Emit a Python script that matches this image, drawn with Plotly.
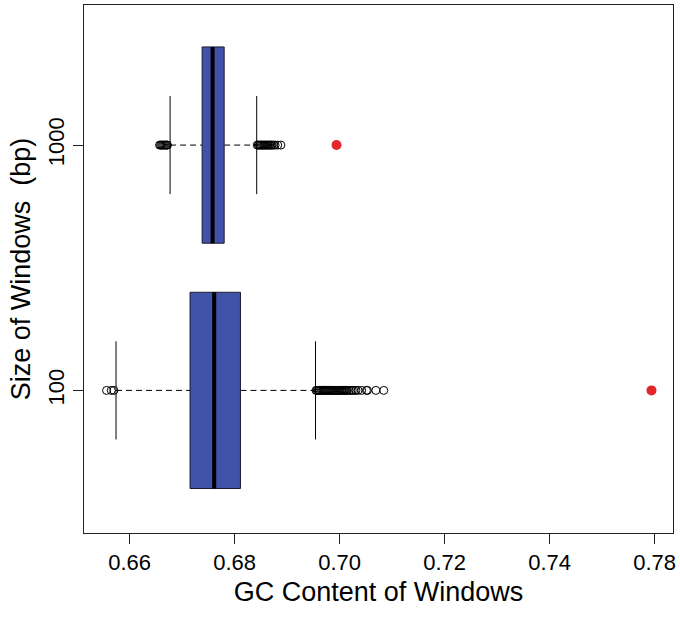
import plotly.graph_objects as go

# ---------------- data ----------------
categories = ["100", "1000"]
q1 = [0.6715, 0.6738]
medians = [0.6761, 0.6758]
q3 = [0.6811, 0.6780]
whisker_low = [0.6574, 0.6677]
whisker_high = [0.6954, 0.6842]

outliers_100 = [
    0.6556, 0.6565, 0.6570,
    0.6955, 0.6957, 0.6959, 0.6961, 0.6963, 0.6965, 0.6967, 0.6969, 0.6971,
    0.6973, 0.6975, 0.6977, 0.6979, 0.6981, 0.6983, 0.6985, 0.6987, 0.6989,
    0.6991, 0.6993, 0.6995, 0.6997, 0.6999, 0.7001, 0.7003, 0.7005, 0.7007,
    0.7009, 0.7011, 0.7013, 0.7015, 0.7018, 0.7021, 0.7024, 0.7027, 0.7031,
    0.7035, 0.7042, 0.7051, 0.7053, 0.7069, 0.7084,
]
outliers_1000 = [
    0.6657, 0.6659, 0.6661, 0.6663, 0.6665, 0.6667, 0.6669, 0.6671, 0.6672,
    0.6843, 0.6845, 0.6847, 0.6849, 0.6851, 0.6853, 0.6855, 0.6857, 0.6859,
    0.6861, 0.6863, 0.6865, 0.6867, 0.6869, 0.6871, 0.6874, 0.6877, 0.6882,
    0.6888,
]
outliers = [outliers_100, outliers_1000]
highlight = [0.7594, 0.6994]

x_tick_vals = [0.66, 0.68, 0.70, 0.72, 0.74, 0.76]
x_tick_text = ["0.66", "0.68", "0.70", "0.72", "0.74", "0.78"]

# ---------------- style ----------------
BOX_HALF = 0.4
STAPLE_HALF = 0.2
BOX_FILL = "#4152A8"
FRAME = "#222222"
FONT = "Liberation Sans, Arial, Helvetica, sans-serif"

fig = go.Figure()
for i, cat in enumerate(categories):
    pos = i + 1
    # dashed whiskers
    fig.add_trace(go.Scatter(
        x=[whisker_low[i], q1[i], None, q3[i], whisker_high[i]],
        y=[pos, pos, None, pos, pos],
        mode="lines", line=dict(color="black", width=1, dash="6px,4px"),
        hoverinfo="skip"))
    # staples
    fig.add_trace(go.Scatter(
        x=[whisker_low[i], whisker_low[i], None, whisker_high[i], whisker_high[i]],
        y=[pos - STAPLE_HALF, pos + STAPLE_HALF, None, pos - STAPLE_HALF, pos + STAPLE_HALF],
        mode="lines", line=dict(color="black", width=1),
        hoverinfo="skip"))
    # box
    fig.add_trace(go.Scatter(
        x=[q1[i], q3[i], q3[i], q1[i], q1[i]],
        y=[pos - BOX_HALF, pos - BOX_HALF, pos + BOX_HALF, pos + BOX_HALF, pos - BOX_HALF],
        mode="lines", fill="toself", fillcolor=BOX_FILL,
        line=dict(color="#1a1a2e", width=1), hoverinfo="skip"))
    # median
    fig.add_trace(go.Scatter(
        x=[medians[i], medians[i]],
        y=[pos - BOX_HALF, pos + BOX_HALF],
        mode="lines", line=dict(color="black", width=4), hoverinfo="skip"))
    # outliers
    fig.add_trace(go.Scatter(
        x=outliers[i], y=[pos] * len(outliers[i]),
        mode="markers",
        marker=dict(symbol="circle-open", size=8, color="black", line=dict(width=1))))
    # highlighted point
    fig.add_trace(go.Scatter(
        x=[highlight[i]], y=[pos], mode="markers",
        marker=dict(symbol="circle", size=10, color="#E3262B")))

axis_common = dict(
    showline=True, mirror=True, linecolor=FRAME, linewidth=1,
    ticks="outside", ticklen=10, tickcolor=FRAME, tickwidth=1,
    showgrid=False, zeroline=False,
    tickfont=dict(size=22, color="black", family=FONT),
)

fig.update_layout(
    width=680, height=620, autosize=False,
    margin=dict(l=84, r=5, t=4, b=87),
    paper_bgcolor="white", plot_bgcolor="white",
    showlegend=False,
    font=dict(family=FONT, color="black"),
    xaxis=dict(
        range=[0.6513, 0.7635], tickvals=x_tick_vals, ticktext=x_tick_text,
        title=dict(text="GC Content of Windows", font=dict(size=27), standoff=7),
        **axis_common),
    yaxis=dict(
        range=[0.4187, 2.571], tickvals=[1, 2], ticktext=categories, tickangle=-90,
        title=dict(text="Size of Windows\u00a0\u00a0(bp)", font=dict(size=27), standoff=5),
        **axis_common),
)

fig.write_html(
    "out.html",
    config={"displayModeBar": False},
    post_script="document.body.style.margin='0';document.body.style.padding='0';"
                "document.body.style.overflow='hidden';",
)
